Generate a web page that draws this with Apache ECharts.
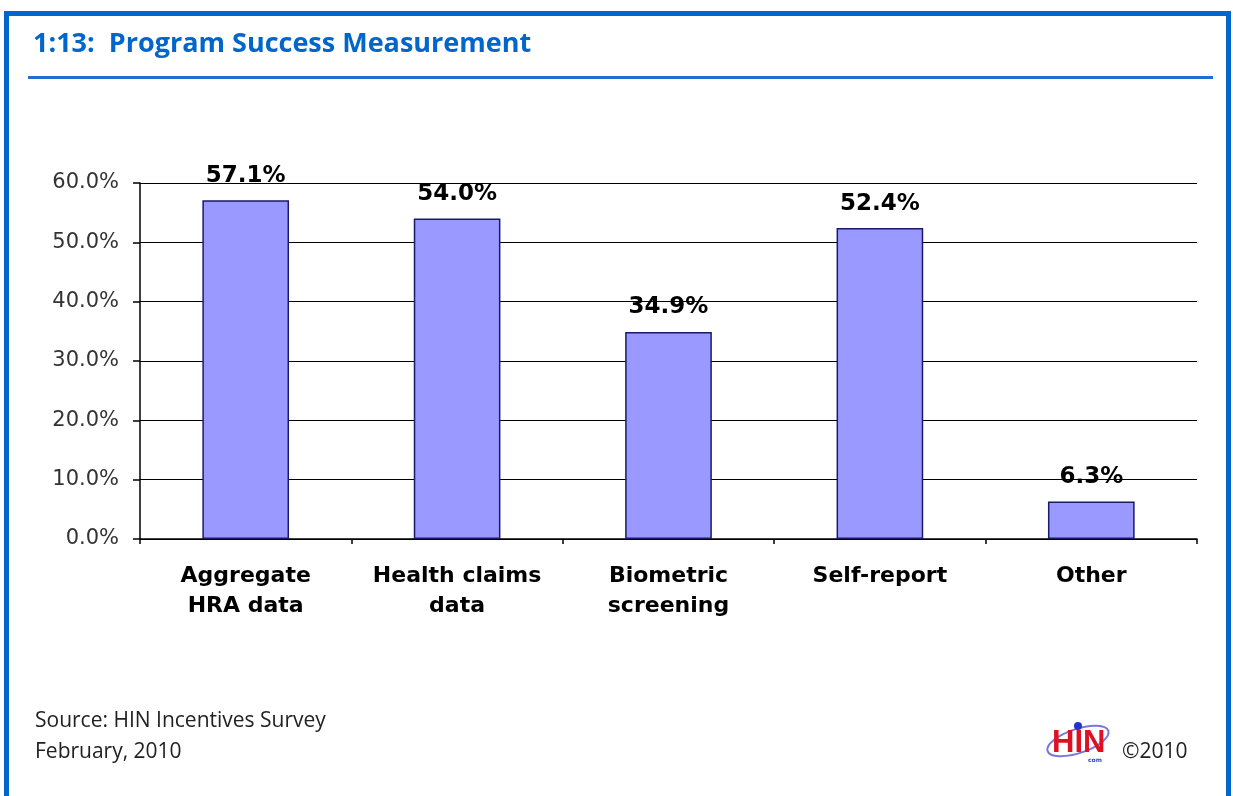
<!DOCTYPE html>
<html>
<head>
<meta charset="utf-8">
<script src="https://cdn.jsdelivr.net/npm/echarts@6/dist/echarts.min.js"></script>
<style>
html,body{margin:0;padding:0;background:#fff;}
#chart{width:1233px;height:796px;}
</style>
</head>
<body>
<div id="chart"></div>
<script>
var categories = ['Aggregate\nHRA data', 'Health claims\ndata', 'Biometric\nscreening', 'Self-report', 'Other'];
var values = [57.1, 54.0, 34.9, 52.4, 6.3];
var yTicks = [0, 10, 20, 30, 40, 50, 60];
var titleText = '1:13:  Program Success Measurement';
var sourceLines = ['Source: HIN Incentives Survey', 'February, 2010'];
var copyrightText = '\u00a92010';

var chart = echarts.init(document.getElementById('chart'), null, {renderer: 'canvas'});
var option = {
  backgroundColor: '#ffffff',
  animation: false,
  grid: {left: 140, right: 36, top: 183, bottom: 257, containLabel: false},
  xAxis: {
    type: 'category',
    data: categories,
    axisLine: {show: true, lineStyle: {color: '#000', width: 1.5}},
    axisTick: {show: true, inside: false, length: 5, lineStyle: {color: '#000', width: 1.5}},
    axisLabel: {
      color: '#000', fontFamily: 'DejaVu Sans', fontWeight: 'bold', fontSize: 22,
      lineHeight: 30, margin: 22, interval: 0
    },
    splitLine: {show: false}
  },
  yAxis: {
    type: 'value',
    min: yTicks[0], max: yTicks[yTicks.length - 1], interval: 10,
    axisLine: {show: true, lineStyle: {color: '#000', width: 1.5}},
    axisTick: {show: true, length: 7, lineStyle: {color: '#000', width: 1.5}},
    axisLabel: {
      color: '#333', fontFamily: 'DejaVu Sans', fontSize: 21, margin: 21,
      formatter: function (v) { return v.toFixed(1) + '%'; }
    },
    splitLine: {show: true, lineStyle: {color: '#000', width: 1.2}}
  },
  series: [{
    type: 'bar',
    data: values,
    barWidth: '41%',
    itemStyle: {color: '#9999ff', borderColor: '#1a1a66', borderWidth: 1.5},
    label: {
      show: true, position: 'top', distance: 13,
      color: '#000', fontFamily: 'DejaVu Sans', fontWeight: 'bold', fontSize: 23,
      formatter: function (p) { return p.value.toFixed(1) + '%'; }
    },
    z: 3
  }],
  graphic: [
    {type: 'rect', shape: {x: 4, y: 11, width: 1227, height: 5}, style: {fill: '#0066cc'}, z: 100},
    {type: 'rect', shape: {x: 4, y: 11, width: 5, height: 790}, style: {fill: '#0066cc'}, z: 100},
    {type: 'rect', shape: {x: 1226, y: 11, width: 5, height: 790}, style: {fill: '#0066cc'}, z: 100},
    {type: 'text', left: 33, top: 31, style: {text: titleText, fill: '#0066cc', font: 'bold 27px "Open Sans"'}, z: 100},
    {type: 'rect', shape: {x: 28, y: 76, width: 1185, height: 3}, style: {fill: '#1f6fcc'}, z: 100},
    {type: 'text', left: 35, top: 711, style: {text: sourceLines[0], fill: '#222', font: '21px "Open Sans"'}, z: 100},
    {type: 'text', left: 35, top: 742, style: {text: sourceLines[1], fill: '#222', font: '21px "Open Sans"'}, z: 100},
    {type: 'text', left: 1122, top: 742, style: {text: copyrightText, fill: '#222', font: '21px "Open Sans"'}, z: 100},
    {type: 'ellipse', shape: {cx: 1078, cy: 741, rx: 32, ry: 12}, rotation: 0.32, originX: 1078, originY: 741,
      style: {fill: 'none', stroke: '#7777dd', lineWidth: 2}, z: 100},
    {type: 'text', left: 1052, top: 728, style: {text: 'HIN', fill: '#dd1122', font: 'bold 31px "Liberation Sans Narrow", "Liberation Sans"'}, z: 101},
    {type: 'circle', shape: {cx: 1078, cy: 726, r: 4}, style: {fill: '#2233cc'}, z: 102},
    {type: 'text', left: 1088, top: 757, style: {text: 'com', fill: '#3344cc', font: 'bold 6px "DejaVu Sans"'}, z: 101}
  ]
};
chart.setOption(option);
</script>
</body>
</html>
